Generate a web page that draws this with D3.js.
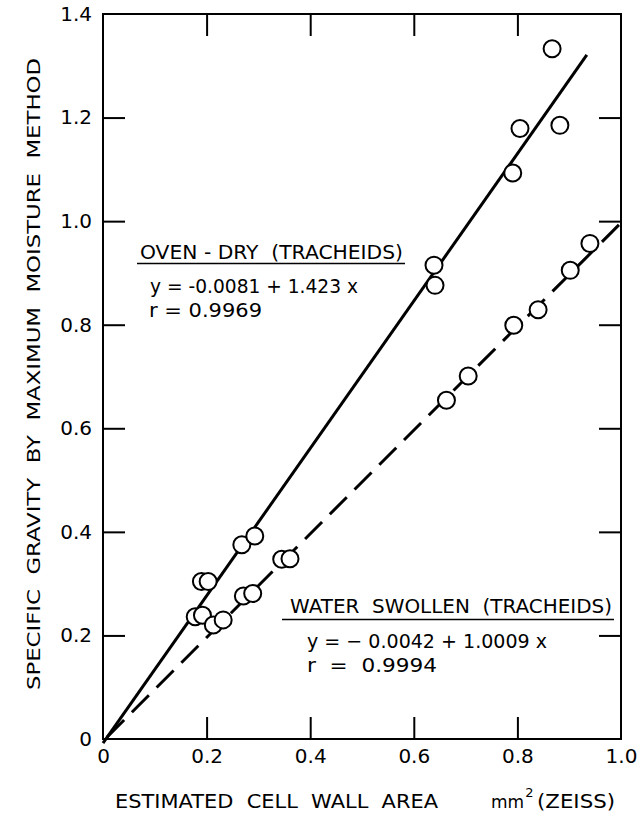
<!DOCTYPE html>
<html>
<head>
<meta charset="utf-8">
<script src="https://cdn.jsdelivr.net/npm/d3@7"></script>
<style>
  body { margin: 0; background: #fff; }
  text { font-family: "DejaVu Sans", sans-serif; fill: #000; white-space: pre; }
</style>
</head>
<body>
<script>
// data
const ovenX = [0.178, 0.192, 0.190, 0.203, 0.268, 0.293, 0.639, 0.641, 0.791, 0.805, 0.882, 0.867];
const ovenY = [0.236, 0.239, 0.304, 0.304, 0.375, 0.392, 0.915, 0.876, 1.093, 1.179, 1.185, 1.333];
const waterX = [0.213, 0.232, 0.271, 0.289, 0.345, 0.361, 0.663, 0.705, 0.793, 0.840, 0.902, 0.940];
const waterY = [0.220, 0.230, 0.276, 0.281, 0.347, 0.348, 0.654, 0.701, 0.799, 0.829, 0.905, 0.957];
const ovenFit = { a: -0.0081, b: 1.423, x0: 0, x1: 0.934 };
const waterFit = { a: -0.0042, b: 1.0009, x0: 0.008, x1: 1.0 };
const xTicks = [0, 0.2, 0.4, 0.6, 0.8, 1.0];
const yTicks = [0, 0.2, 0.4, 0.6, 0.8, 1.0, 1.2, 1.4];

const width = 643;
const height = 815;
const marginLeft = 103;
const marginRight = 22;
const marginTop = 14;
const marginBottom = 76;
const tickLen = 22;

const x = d3.scaleLinear([0, 1], [marginLeft, width - marginRight]);
const y = d3.scaleLinear([0, 1.4], [height - marginBottom, marginTop]);

const svg = d3
  .create("svg")
  .attr("width", width)
  .attr("height", height)
  .attr("viewBox", [0, 0, width, height]);

const fmt = (d) => (d === 0 ? "0" : d3.format(".1f")(d));
const inner = (t) => t.filter((d, i) => i > 0 && i < t.length - 1);

// frame
svg
  .append("rect")
  .attr("x", x(0))
  .attr("y", y(1.4))
  .attr("width", x(1) - x(0))
  .attr("height", y(0) - y(1.4))
  .attr("fill", "none")
  .attr("stroke", "#000")
  .attr("stroke-width", 2);

// inward ticks on all four sides
const tickAxes = [
  [d3.axisBottom(x).tickValues(inner(xTicks)), `translate(0,${y(0)})`],
  [d3.axisTop(x).tickValues(inner(xTicks)), `translate(0,${y(1.4)})`],
  [d3.axisLeft(y).tickValues(inner(yTicks)), `translate(${x(0)},0)`],
  [d3.axisRight(y).tickValues(inner(yTicks)), `translate(${x(1)},0)`],
];
tickAxes.forEach(([ax, tr]) => {
  svg
    .append("g")
    .attr("transform", tr)
    .call(ax.tickSize(-tickLen).tickFormat(""))
    .call((g) => g.select(".domain").remove())
    .call((g) => g.selectAll(".tick line").attr("stroke", "#000").attr("stroke-width", 2));
});

// tick labels
svg
  .append("g")
  .attr("transform", `translate(0,${y(0)})`)
  .call(d3.axisBottom(x).tickValues(xTicks).tickFormat(fmt).tickSize(0).tickPadding(10))
  .call((g) => g.select(".domain").remove())
  .call((g) =>
    g.selectAll(".tick text").attr("font-size", 20).attr("font-family", "DejaVu Sans")
  );

svg
  .append("g")
  .attr("transform", `translate(${x(0)},0)`)
  .call(d3.axisLeft(y).tickValues(yTicks).tickFormat(fmt).tickSize(0).tickPadding(11))
  .call((g) => g.select(".domain").remove())
  .call((g) =>
    g.selectAll(".tick text").attr("font-size", 20).attr("font-family", "DejaVu Sans")
  );

// regression lines
const line = d3
  .line()
  .x((d) => x(d[0]))
  .y((d) => y(d[1]));
const fitPts = (f) => [
  [f.x0, f.a + f.b * f.x0],
  [f.x1, f.a + f.b * f.x1],
];

svg
  .append("path")
  .attr("d", line(fitPts(ovenFit)))
  .attr("fill", "none")
  .attr("stroke", "#000")
  .attr("stroke-width", 3);

svg
  .append("path")
  .attr("d", line(fitPts(waterFit)))
  .attr("fill", "none")
  .attr("stroke", "#000")
  .attr("stroke-width", 3)
  .attr("stroke-dasharray", "24,11");

// points
function drawPoints(X, Y) {
  svg
    .append("g")
    .selectAll("circle")
    .data(d3.range(X.length))
    .join("circle")
    .attr("cx", (i) => x(X[i]))
    .attr("cy", (i) => y(Y[i]))
    .attr("r", 8.5)
    .attr("fill", "#fff")
    .attr("stroke", "#000")
    .attr("stroke-width", 2);
}
drawPoints(ovenX, ovenY);
drawPoints(waterX, waterY);

// text helper: fits a string between two x positions
function label(txt, x0, x1, baseline, size) {
  return svg
    .append("text")
    .attr("x", x0)
    .attr("y", baseline)
    .attr("font-size", size)
    .attr("textLength", x1 - x0)
    .attr("lengthAdjust", "spacingAndGlyphs")
    .text(txt);
}

// annotations
label("OVEN - DRY  (TRACHEIDS)", 140, 403, 259, 20);
svg.append("line").attr("x1", 137).attr("x2", 405).attr("y1", 263.5).attr("y2", 263.5)
  .attr("stroke", "#000").attr("stroke-width", 1.5);
label("y = -0.0081 + 1.423 x", 150, 358, 293, 20);
label("r = 0.9969", 149, 262, 317, 20);

label("WATER  SWOLLEN  (TRACHEIDS)", 290, 612, 613, 20);
svg.append("line").attr("x1", 282).attr("x2", 614).attr("y1", 619.5).attr("y2", 619.5)
  .attr("stroke", "#000").attr("stroke-width", 1.5);
label("y = \u2212 0.0042 + 1.0009 x", 307, 547, 648, 20);
label("r  =  0.9994", 307, 437, 672, 20);

// axis titles
label("ESTIMATED  CELL  WALL  AREA", 115, 438, 808, 19);
const unit = svg.append("text").attr("x", 491).attr("y", 808).attr("font-size", 17);
unit.append("tspan").text("mm");
unit.append("tspan").attr("font-size", 13).attr("dx", 1).attr("dy", -11).text("2");
label("(ZEISS)", 537, 615, 808, 19);

svg
  .append("text")
  .attr("transform", `translate(40,690) rotate(-90)`)
  .attr("font-size", 18)
  .attr("textLength", 632)
  .attr("lengthAdjust", "spacingAndGlyphs")
  .text("SPECIFIC  GRAVITY  BY  MAXIMUM  MOISTURE  METHOD");

document.body.appendChild(svg.node());
</script>
</body>
</html>
